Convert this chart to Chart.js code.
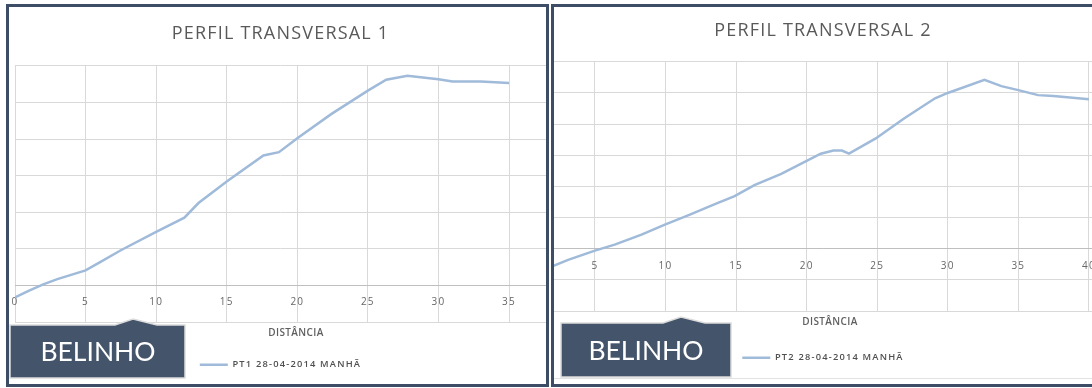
<!DOCTYPE html>
<html>
<head>
<meta charset="utf-8">
<script src="https://cdn.jsdelivr.net/npm/chart.js@4"></script>
<style>
  html, body { margin: 0; padding: 0; background: #fff; width: 1092px; height: 388px; overflow: hidden; position: relative; }
  .panel { position: absolute; top: 4px; height: 383px; border: 3px solid #3e4d66; box-sizing: border-box; overflow: hidden; background: #fff; }
  #p1 { left: 6px; width: 543px; }
  #p2 { left: 551px; width: 545px; }
  .panel canvas { position: absolute; left: 0; top: 0; }
  .axis-title { position: absolute; font: 600 10px "Open Sans", sans-serif; color: #5f5f5f; letter-spacing: 0.4px; transform: translate(-50%, -50%); white-space: nowrap; }
  .frame-line { position: absolute; left: 0; right: 0; height: 1px; background: #e2e2e2; }
  #tags { position: absolute; left: 0; top: 0; }
</style>
</head>
<body>
<div class="panel" id="p1">
  <canvas id="c1" width="537" height="377" style="width:537px;height:377px"></canvas>
  <div class="axis-title" style="left:287px;top:325px">DISTÂNCIA</div>
</div>
<div class="panel" id="p2">
  <canvas id="c2" width="538" height="377" style="width:538px;height:377px"></canvas>
  <div class="axis-title" style="left:276px;top:314px">DISTÂNCIA</div>
  <div class="frame-line" style="top:371px"></div>
</div>
<svg id="tags" width="1092" height="388" viewBox="0 0 1092 388">
  <path d="M10,325 H115 L133,319 L157,325 H185 V378 H10 Z" fill="#44546a" stroke="#dcdcdc" stroke-width="1.5"/>
  <text x="98" y="351" fill="#fff" font-family="Lato, sans-serif" font-size="26.5" text-anchor="middle" dominant-baseline="central">BELINHO</text>
  <path d="M561,323 H663 L681,317 L705,323 H731 V377 H561 Z" fill="#44546a" stroke="#dcdcdc" stroke-width="1.5"/>
  <text x="646" y="350" fill="#fff" font-family="Lato, sans-serif" font-size="26.5" text-anchor="middle" dominant-baseline="central">BELINHO</text>
</svg>
<script>
// Perfil transversal 1 — distância (m) e cota relativa
const pt1Dist = [0, 1, 2, 3, 5, 6, 7.5, 10, 12, 13, 15, 17.6, 18.7, 20, 22.4, 25, 26.3, 27.8, 30, 31, 33, 35];
const pt1Cota = [-0.33, -0.14, 0.03, 0.17, 0.41, 0.63, 0.96, 1.46, 1.85, 2.25, 2.84, 3.55, 3.64, 4.02, 4.68, 5.32, 5.62, 5.73, 5.63, 5.57, 5.57, 5.53];
const pt1Ticks = [0, 5, 10, 15, 20, 25, 30, 35];

// Perfil transversal 2
const pt2Dist = [1.67, 3.1, 5, 6.4, 8.3, 10, 11.6, 13.5, 14.9, 16.3, 18.2, 20, 21, 21.9, 22.5, 23, 24.9, 26.9, 29.1, 30, 32.6, 33.8, 35, 36.4, 37.5, 40];
const pt2Cota = [-0.62, -0.36, -0.06, 0.13, 0.45, 0.78, 1.07, 1.43, 1.69, 2.04, 2.4, 2.82, 3.05, 3.15, 3.15, 3.05, 3.54, 4.18, 4.83, 5.0, 5.42, 5.22, 5.09, 4.93, 4.9, 4.8];
const pt2Ticks = [5, 10, 15, 20, 25, 30, 35, 40];

const titles = ['PERFIL TRANSVERSAL 1', 'PERFIL TRANSVERSAL 2'];
const seriesNames = ['PT1 28-04-2014 MANHÃ', 'PT2 28-04-2014 MANHÃ'];

Chart.defaults.font.family = '"Open Sans", sans-serif';

// Office-style tracking on all canvas text
const tracking = {
  id: 'tracking',
  beforeLayout(chart) { chart.ctx.letterSpacing = '1.2px'; },
  beforeDraw(chart) { chart.ctx.letterSpacing = '1.2px'; }
};

function toPoints(xs, ys) { return xs.map((x, i) => ({ x, y: ys[i] })); }

function profileChart(canvasId, cfg) {
  return new Chart(document.getElementById(canvasId), {
    type: 'scatter',
    data: {
      datasets: [{
        label: cfg.name,
        data: toPoints(cfg.dist, cfg.cota),
        showLine: true,
        borderColor: '#a0bad9',
        backgroundColor: '#a0bad9',
        borderWidth: 2.5,
        pointRadius: 0,
        tension: 0
      }]
    },
    options: {
      responsive: false,
      animation: false,
      events: [],
      layout: { padding: cfg.padding, autoPadding: false },
      plugins: {
        title: {
          display: true,
          text: cfg.title,
          color: '#595959',
          font: { size: 18, weight: 'normal' },
          padding: cfg.titlePad
        },
        legend: {
          position: 'bottom',
          labels: {
            usePointStyle: true,
            pointStyle: 'line',
            pointStyleWidth: 28,
            padding: cfg.legendPad,
            color: '#505050',
            font: { size: 9.3, weight: '600' }
          }
        },
        tooltip: { enabled: false }
      },
      scales: {
        x: {
          type: 'linear',
          min: cfg.xMin,
          max: cfg.xMax,
          position: { y: 0 },
          afterBuildTicks: s => { s.ticks = cfg.ticks.map(v => ({ value: v })); },
          // labels sit inside the plot; no extra side room needed for them
          afterFit: s => { s.paddingLeft = 0; s.paddingRight = 0; },
          grid: { color: '#d9d9d9', drawTicks: false },
          border: { color: '#bfbfbf', width: 1 },
          ticks: { padding: 11, color: '#666', font: { size: 10 }, maxRotation: 0, autoSkip: false }
        },
        y: {
          min: cfg.yMin,
          max: cfg.yMax,
          afterFit: s => { s.width = 0; },
          ticks: { display: false, stepSize: 1 },
          grid: { color: '#d9d9d9', drawTicks: false },
          border: { display: false }
        }
      }
    },
    plugins: [tracking]
  });
}

profileChart('c1', {
  name: seriesNames[0], title: titles[0], dist: pt1Dist, cota: pt1Cota, ticks: pt1Ticks,
  xMin: 0, xMax: 37.62, yMin: -1, yMax: 6,
  padding: { left: 6, right: 0, top: 0, bottom: 4.5 },
  titlePad: { top: 15.8, bottom: 21.4 },
  legendPad: 38.2
});

profileChart('c2', {
  name: seriesNames[1], title: titles[1], dist: pt2Dist, cota: pt2Cota, ticks: pt2Ticks,
  xMin: 2.1, xMax: 40.22, yMin: -2, yMax: 6,
  padding: { left: 0, right: 0, top: 0, bottom: 11.5 },
  titlePad: { top: 12.8, bottom: 20.4 },
  legendPad: 42.2
});
</script>
</body>
</html>
